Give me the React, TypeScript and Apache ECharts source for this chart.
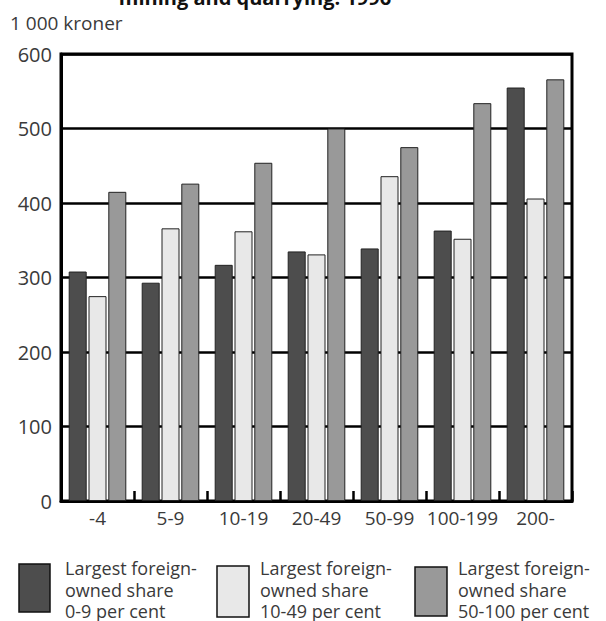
import React, { useEffect, useRef } from "react";
import * as echarts from "echarts";

const categories = ["-4", "5-9", "10-19", "20-49", "50-99", "100-199", "200-"];
const share0to9 = [308, 293, 317, 335, 339, 363, 555];
const share10to49 = [275, 366, 362, 331, 436, 352, 406];
const share50to100 = [415, 426, 454, 500, 475, 534, 566];
const seriesNames = [
  "Largest foreign-\nowned share\n0-9 per cent",
  "Largest foreign-\nowned share\n10-49 per cent",
  "Largest foreign-\nowned share\n50-100 per cent",
];
const seriesColors = ["#4d4d4d", "#e8e8e8", "#999999"];
const yTicks = [0, 100, 200, 300, 400, 500, 600];
const titleText = "mining and quarrying. 1996";
const unitText = "1 000 kroner";

const FONT = "'Open Sans', 'DejaVu Sans', sans-serif";

export default function App() {
  const ref = useRef<HTMLDivElement>(null);
  useEffect(() => {
    if (!ref.current) return;
    const chart = echarts.init(ref.current, null, { renderer: "svg" });
    const values = [share0to9, share10to49, share50to100];
    const legendBoxes = [
      { x: 19, y: 564, w: 31, h: 48, tx: 65 },
      { x: 217, y: 566, w: 32, h: 51, tx: 260 },
      { x: 415, y: 567, w: 32, h: 49, tx: 458 },
    ];
    const legendGraphics: any[] = [];
    seriesNames.forEach((name, i) => {
      const b = legendBoxes[i];
      name.split("\n").forEach((line, j) => {
        legendGraphics.push({
          type: "text",
          x: b.tx,
          y: 568 + j * 21.5,
          style: {
            text: line,
            font: `18px ${FONT}`,
            fill: "#3a3a3a",
            textVerticalAlign: "middle",
          },
        });
      });
      legendGraphics.push({
        type: "rect",
        shape: { x: b.x, y: b.y, width: b.w, height: b.h },
        style: { fill: seriesColors[i], stroke: "#111", lineWidth: 1.5 },
      });
    });
    chart.setOption({
      animation: false,
      backgroundColor: "#fff",
      grid: {
        left: 61,
        right: 34,
        top: 54,
        bottom: 120,
        show: true,
        borderColor: "#000",
        borderWidth: 3,
        backgroundColor: "transparent",
      },
      xAxis: {
        type: "category",
        data: categories,
        axisLine: { show: true, lineStyle: { color: "#000", width: 3 } },
        axisTick: { show: true, inside: true, length: 10, lineStyle: { color: "#000", width: 2.5 } },
        axisLabel: { color: "#3a3a3a", fontSize: 19, fontFamily: FONT, margin: 7, interval: 0 },
        splitLine: { show: false },
      },
      yAxis: {
        type: "value",
        min: yTicks[0],
        max: yTicks[yTicks.length - 1],
        interval: 100,
        axisLine: { show: true, lineStyle: { color: "#000", width: 3 } },
        axisTick: { show: false },
        axisLabel: { color: "#3a3a3a", fontSize: 20, fontFamily: FONT, margin: 9 },
        splitLine: { show: true, lineStyle: { color: "#000", width: 2.5 } },
      },
      series: values.map((v, i) => ({
        type: "bar",
        name: seriesNames[i],
        data: v,
        barWidth: 18,
        barGap: "10%",
        itemStyle: { color: seriesColors[i], borderColor: "#222", borderWidth: 1 },
      })),
      graphic: [
        {
          type: "text",
          x: 255,
          y: -3,
          style: {
            text: titleText,
            font: `bold 20px ${FONT}`,
            fill: "#111",
            textAlign: "center",
            textVerticalAlign: "middle",
          },
        },
        {
          type: "text",
          x: 10,
          y: 23,
          style: {
            text: unitText,
            font: `19px ${FONT}`,
            fill: "#3a3a3a",
            textVerticalAlign: "middle",
          },
        },
        ...legendGraphics,
      ],
    });
    return () => chart.dispose();
  }, []);
  return (
    <div
      ref={ref}
      style={{ position: "fixed", left: 0, top: 0, width: 606, height: 621, background: "#fff" }}
    />
  );
}
